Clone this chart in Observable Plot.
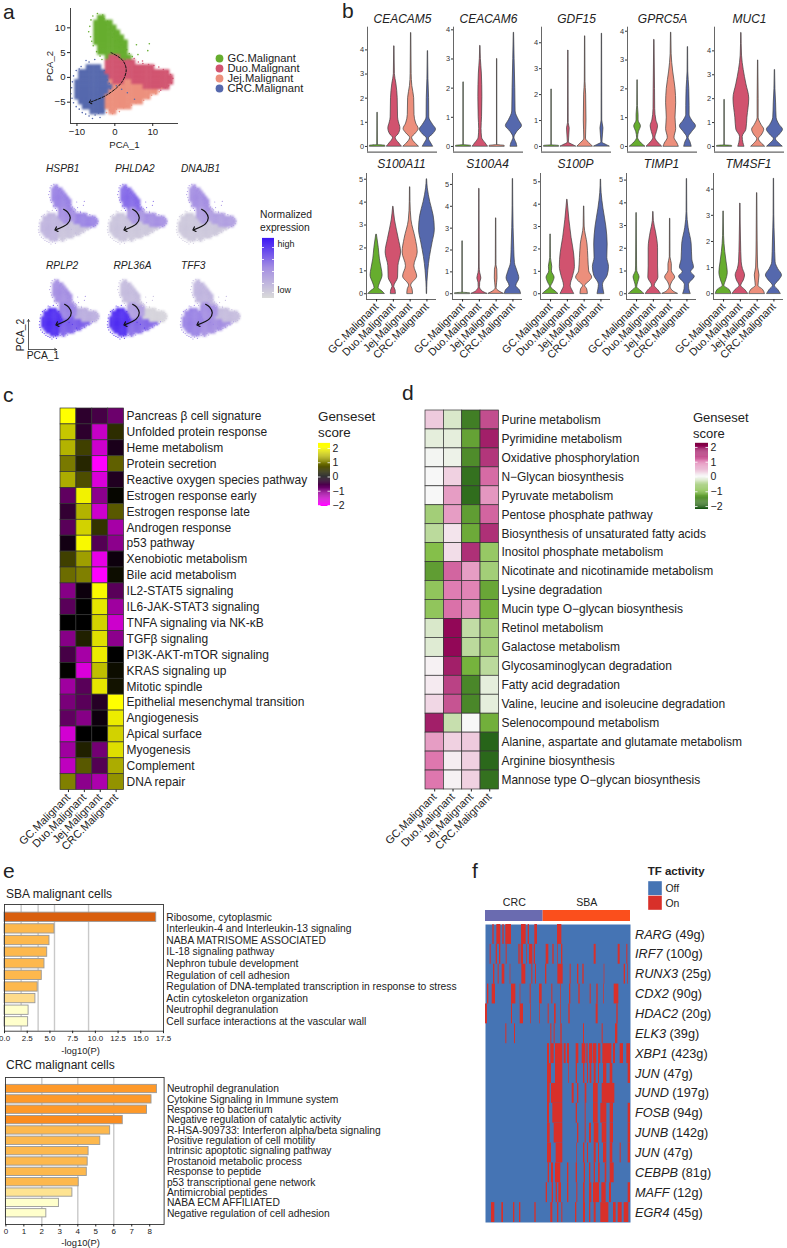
<!DOCTYPE html>
<html><head><meta charset="utf-8">
<script src="https://cdn.jsdelivr.net/npm/d3@7"></script>
<script src="https://cdn.jsdelivr.net/npm/@observablehq/plot@0.6"></script>
<style>
html,body{margin:0;padding:0;background:#fff}
#root{position:relative;width:787px;height:1248px;overflow:hidden;font-family:"Liberation Sans",Arial,sans-serif;color:#222}
.n{position:absolute;line-height:0;white-space:nowrap}
svg{overflow:visible}
</style></head><body><div id="root"></div>
<script>
const clusters = ["GC.Malignant","Duo.Malignant","Jej.Malignant","CRC.Malignant"];
const clusterColors = ["#66ad2e","#d1536f","#ec8f7c","#5568ad"];

// Panel a: dominant cluster per 1x1 PCA unit. Rows y=13..-8, columns x=-11..15
const pcaRows = [
"...........................",
".......GG..................",
"......GGGGG................",
"......GGGGGG...............",
"......GGGGGGG..............",
"......GGGGGGGG.............",
"......GGGGGGGGG............",
".......GGGGGGGG............",
".......GGGGGGGG............",
".........GDDDGGG...........",
".........DDDDDDDD..........",
"....CCCC.DDDDDDDDRRRRR.....",
"..CCCCCCCDDDDDDDDRRRRRRRRR.",
"..CCCCCCCCDDDDDDDRRRRRRRRRR",
".CCCCCCCCCJDDDJJRRRRRRRRRRR",
".CCCCCCCCCCJJJJJJJJRRRRRRR.",
".CCCCCCCCCJJJJJJJJJJJJJ....",
".CCCCCCCCJJJJJJJJJJJJ......",
"..CCCCCCCJJJJJJJJJJ........",
"...CCCCCCJJJJJJJ...........",
".....CCCC.JJ...............",
"..........................."
];
const regionCluster = {G:0,D:1,R:1,J:2,C:3};
// loose cells around the clouds: [x, y]
const looseG = [[-5.8,12.4],[-4.6,12.9],[-3.2,12.6],[-2.9,11.8],[-6.3,11.6],[-1.9,11.3],[-2.3,10.6],[-6.6,10.3],[-1.1,10.1],[-.7,9.4],[-1.4,9.7],[-6.9,9.2],[-.2,8.8],[-.6,8.1],[.4,8.3],[-6.4,8.2],[.9,7.6],[1.3,7.1],[.1,7.4],[-6.1,7.3],[1.8,6.5],[2.4,6.2],[1.1,6.1],[-5.7,6.4],[3.1,5.6],[2.2,5.2],[3.8,4.8],[4.6,4.2],[5.7,6.6],[9.1,6.8],[8.7,5.4],[6.1,4.6],[3.2,4.1],[2.7,3.6],[-4.8,5.2],[-3.9,4.3],[-3.4,3.6]];
const looseC = [[-8.9,2.2],[-7.6,3.4],[-6.8,3.1],[-5.3,3.6],[-10.2,1.4],[-9.4,1.7],[-10.9,.3],[-11.2,-.9],[-11.4,-2.1],[-11.6,-3.3],[-11.3,-4.2],[-10.9,-5.1],[-10.2,-5.9],[-9.4,-6.4],[-8.6,-7.1],[-7.7,-7.4],[-6.8,-7.8],[-5.9,-8.3],[-5.2,-7.6],[-4.3,-7.2],[-3.9,-8.1],[-3.2,-6.8],[-2,-.5],[-1.5,-1.2],[-2.8,1.4],[-1.2,-2.3],[.4,-1.7],[1.8,-2.4],[3.3,-3.1],[5.2,-4.4]];
const looseJ = [[-2.2,-7.1],[-1.4,-6.6],[-.6,-7.3],[.4,-6.4],[1.2,-6.9],[2.3,-6.1],[3.1,-5.8],[4.4,-5.6],[5.6,-5.1],[6.7,-4.9],[7.6,-4.6],[8.8,-4.1],[9.7,-3.6],[10.8,-3.3],[11.7,-2.9],[12.4,-2.2]];
const looseR = [[6.2,3.1],[7.4,2.8],[8.9,2.6],[10.3,2.4],[11.6,2.1],[12.8,1.6],[13.9,1.1],[14.7,.6],[15.3,-.2],[14.9,-1.1],[14.2,-1.7],[13.3,-2.1],[12.1,-2.6],[7.3,3.3],[5.1,3.8],[4.3,3.2]];
const pseudoX = [-1,2,3,1.8,-2,-6.5];
const pseudoY = [5,3.5,1.5,-1,-3.5,-5];
const featGenes = ["HSPB1","PHLDA2","DNAJB1","RPLP2","RPL36A","TFF3"];
const featG = [.55,.65,.5,.5,.2,.25];
const featD = [.5,.45,.4,.55,.4,.5];
const featR = [.55,.5,.4,.3,.05,.2];
const featJ = [.15,.12,.12,.7,.65,.5];
const featC = [.25,.15,.12,.9,.9,.55];
const featArrowX = [-.2,1.6,2.8,1.5,-3.6];
const featArrowY = [4,3,1,-1.2,-3.2];

// Panel b: violin profiles as [value, half-width]
const flat = m => [[0,.45],[.02,.45],[.05,.01],[m,.01]];
const violinGenes = ["CEACAM5","CEACAM6","GDF15","GPRC5A","MUC1","S100A11","S100A4","S100P","TIMP1","TM4SF1"];
const violinYMax = [4.94,4.09,4.6,4.14,4.99,5.25,5.5,5.37,5.29,4.6];
const vCEACAM5 = [[[0,.46],[.03,.46],[.06,.02],[1.4,.01]],
 [[0,.44],[.12,.3],[.35,.08],[.5,.25],[.75,.36],[1,.27],[1.2,.22],[2,.2],[2.6,.12],[3,.03],[4.15,.01]],
 [[0,.45],[.1,.3],[.35,.06],[.55,.3],[.72,.45],[.95,.3],[1.3,.2],[2,.18],[2.5,.07],[3,.03],[4.7,.01]],
 [[0,.3],[.1,.22],[.33,.06],[.5,.3],[.7,.48],[.9,.3],[1.2,.08],[2,.07],[2.8,.03],[3.95,.01]]];
const vCEACAM6 = [flat(2.2),
 [[0,.45],[.1,.32],[.3,.1],[.6,.07],[1,.1],[1.7,.12],[2.5,.09],[3,.03],[3.45,.01]],
 flat(3),
 [[0,.2],[.1,.16],[.3,.03],[.5,.2],[.7,.48],[.9,.3],[1.2,.1],[2,.08],[3,.04],[3.9,.01]]];
const vGDF15 = [flat(2.2),
 [[0,.45],[.05,.3],[.15,.03],[.7,.08],[.9,.02],[3.7,.01]],
 [[0,.45],[.1,.3],[.3,.05],[1,.08],[2,.06],[2.5,.02],[4.25,.01]],
 [[0,.45],[.05,.3],[.15,.03],[.7,.09],[1,.02],[4.35,.01]]];
const vGPRC5A = [[[0,.45],[.1,.25],[.3,.03],[.5,.08],[.7,.2],[.9,.06],[1.1,.06],[1.4,.02],[2.3,.01]],
 [[0,.45],[.1,.28],[.3,.06],[.5,.15],[.7,.22],[.9,.12],[1.3,.05],[2,.04],[3.7,.01]],
 [[0,.45],[.1,.38],[.3,.2],[.6,.3],[1,.26],[1.5,.3],[2,.26],[2.6,.12],[3.2,.03],[3.95,.01]],
 [[0,.22],[.15,.15],[.3,.04],[.5,.25],[.7,.48],[.9,.25],[1.1,.1],[1.4,.1],[2,.08],[2.6,.02],[3.45,.01]]];
const vMUC1 = [flat(1.95),
 [[0,.18],[.15,.12],[.4,.08],[.7,.3],[1.2,.36],[2,.47],[2.6,.3],[3.2,.14],[3.8,.04],[4.75,.01]],
 [[0,.4],[.1,.25],[.3,.05],[.5,.25],[.7,.36],[.9,.2],[1.2,.03],[2,.03],[3.6,.01]],
 [[0,.45],[.1,.3],[.3,.06],[.5,.3],[.7,.48],[.9,.28],[1.2,.1],[1.8,.07],[2.4,.03],[3.2,.01]]];
const vS100A11 = [[[0,.48],[.1,.35],[.25,.12],[.45,.2],[.8,.36],[1.1,.3],[1.5,.2],[2,.13],[2.58,.02]],
 [[0,.15],[.15,.13],[.3,.05],[.7,.28],[1.2,.3],[1.8,.46],[2.4,.32],[3.2,.1],[3.8,.01]],
 [[0,.17],[.2,.14],[.35,.06],[.75,.42],[1.2,.25],[1.8,.45],[2.4,.33],[3.2,.08],[4,.02],[4.65,.01]],
 [[0,.01],[.5,.03],[1,.08],[1.6,.18],[2.2,.33],[2.8,.47],[3.4,.4],[4,.2],[4.6,.05],[5,.01]]];
const vS100A4 = [flat(2.4),
 [[0,.46],[.1,.2],[.3,.04],[.5,.05],[.7,.12],[.95,.05],[1.2,.02],[4.8,.01]],
 [[0,.45],[.1,.2],[.25,.03],[.7,.08],[1.1,.07],[1.3,.02],[3.45,.01]],
 [[0,.48],[.15,.42],[.35,.2],[.7,.38],[1,.28],[1.4,.12],[2,.08],[3,.04],[4,.02],[5.25,.01]]];
const vS100P = [[[0,.45],[.1,.3],[.3,.03],[.5,.15],[.72,.24],[1,.08],[1.2,.1],[1.6,.02],[2.65,.01]],
 [[0,.4],[.15,.3],[.35,.2],[.8,.35],[1.2,.45],[1.8,.4],[2.5,.25],[3.3,.12],[4.2,.01]],
 [[0,.22],[.2,.18],[.35,.06],[.5,.25],[.72,.48],[1,.3],[1.6,.25],[2.2,.2],[3,.03],[3.9,.01]],
 [[0,.2],[.2,.15],[.4,.12],[.8,.4],[1.2,.48],[1.6,.38],[2.2,.4],[3,.32],[3.8,.15],[4.5,.04],[5.1,.01]]];
const vTIMP1 = [[[0,.45],[.1,.3],[.3,.04],[.5,.1],[.72,.18],[1,.04],[1.2,.03],[3.55,.01]],
 [[0,.45],[.15,.3],[.35,.08],[.7,.3],[1.2,.28],[2,.28],[2.7,.16],[3.2,.03],[3.6,.01]],
 [[0,.45],[.1,.2],[.3,.03],[.5,.12],[.72,.3],[1,.1],[1.3,.1],[1.6,.02],[3.3,.01]],
 [[0,.22],[.2,.14],[.4,.12],[.75,.47],[.95,.25],[1.15,.42],[1.5,.32],[2.2,.28],[2.9,.1],[3.6,.02],[5.05,.01]]];
const vTM4SF1 = [[[0,.46],[.15,.35],[.3,.05],[.5,.15],[.8,.25],[1.2,.18],[1.6,.1],[2.2,.03],[3.15,.01]],
 [[0,.46],[.15,.28],[.3,.05],[.5,.2],[.7,.28],[.95,.15],[1.2,.08],[2,.04],[3.45,.01]],
 [[0,.46],[.15,.35],[.3,.08],[.7,.14],[1,.06],[2,.03],[3.85,.01]],
 [[0,.4],[.15,.25],[.3,.06],[.5,.3],[.7,.48],[.95,.25],[1.2,.1],[2,.06],[3,.02],[4.4,.01]]];
const violinProfiles = [vCEACAM5,vCEACAM6,vGDF15,vGPRC5A,vMUC1,vS100A11,vS100A4,vS100P,vTIMP1,vTM4SF1];

// Panel c
const hallmarkTerms = ["Pancreas β cell signature","Unfolded protein response","Heme metabolism","Protein secretion","Reactive oxygen species pathway","Estrogen response early","Estrogen response late","Androgen response","p53 pathway","Xenobiotic metabolism","Bile acid metabolism","IL2-STAT5 signaling","IL6-JAK-STAT3 signaling","TNFA signaling via NK-κB","TGFβ signaling","PI3K-AKT-mTOR signaling","KRAS signaling up","Mitotic spindle","Epithelial mesenchymal transition","Angiogenesis","Apical surface","Myogenesis","Complement","DNA repair"];
const hallmarkGC  = [2,1.55,1.4,.95,1.35,-.75,-.4,-.7,-.15,.5,.85,-1.05,-.7,0,-1.05,-.55,.02,-1.25,-.95,-.75,-1.65,-1.25,-1.5,1];
const hallmarkDuo = [-.35,-.35,.5,.3,.6,1.9,1.4,1.65,1.95,1.25,1,-.1,0,0,.25,-1.3,-1.7,-.7,-.7,-1.05,0,.25,.7,-1.1];
const hallmarkJej = [-.55,-1.55,-1.6,-2,-1.7,-1.1,-1.6,.4,-.65,-1.8,-2,1.95,1.8,1.65,1.75,1.85,1.5,1.8,-.3,-.1,0,-.9,-.65,-1.35];
const hallmarkCRC = [-.85,.35,-.2,.75,-.25,.05,.7,-1.3,-1.1,-.1,.1,-.7,-1.25,-1.6,-1.1,0,.1,.15,2,1.85,1.65,1.75,1.35,1.15];

// Panel d
const keggTerms = ["Purine metabolism","Pyrimidine metabolism","Oxidative phosphorylation","N−Glycan biosynthesis","Pyruvate metabolism","Pentose phosphate pathway","Biosynthesis of unsaturated fatty acids","Inositol phosphate metabolism","Nicotinate and nicotinamide metabolism","Lysine degradation","Mucin type O−glycan biosynthesis","Retinol metabolism","Galactose metabolism","Glycosaminoglycan degradation","Fatty acid degradation","Valine, leucine and isoleucine degradation","Selenocompound metabolism","Alanine, aspartate and glutamate metabolism","Arginine biosynthesis","Mannose type O−glycan biosynthesis"];
const keggGC  = [.35,-.15,-.03,0,0,-.7,-.5,-.95,-1.35,-.85,-.85,-.25,-.2,.05,.1,.25,1.75,.7,1,1];
const keggDuo = [-.25,-.15,-.08,.3,.7,.7,.15,.2,1.15,.95,1.05,1.95,1.95,1.75,1.45,1.3,-.4,.3,.08,.05];
const keggJej = [-1.7,-1.3,-1.55,-1.85,-1.9,-1.35,-1.2,1.6,.7,.9,.8,-.45,-.5,-1.1,-1.6,-1.6,0,.35,.3,.3];
const keggCRC = [1.35,1.75,1.55,1.1,.75,1.15,1.6,-.8,-.7,-1.25,-1.1,-.7,-.7,-.5,-.15,-.15,-1.15,-2,-1.95,-1.85];

// Panel e
const sbaTerms = ["Ribosome, cytoplasmic","Interleukin-4 and Interleukin-13 signaling","NABA MATRISOME ASSOCIATED","IL-18 signaling pathway","Nephron tubule development","Regulation of cell adhesion","Regulation of DNA-templated transcription in response to stress","Actin cytoskeleton organization","Neutrophil degranulation","Cell surface interactions at the vascular wall"];
const sbaValues = [16.7,5.5,4.95,4.7,4.4,4.1,3.65,3.4,2.65,2.6];
const sbaColors = ["#d95f0e","#fdb84d","#fdb84d","#fdb84d","#fdb84d","#fdb84d","#fdb84d","#fedb8b","#ffffcc","#ffffcc"];
const sbaGrid = [1.83,3.7,5.5,9.25];
const crcTerms = ["Neutrophil degranulation","Cytokine Signaling in Immune system","Response to bacterium","Negative regulation of catalytic activity","R-HSA-909733: Interferon alpha/beta signaling","Positive regulation of cell motility","Intrinsic apoptotic signaling pathway","Prostanoid metabolic process","Response to peptide","p53 transcriptional gene network","Antimicrobial peptides","NABA ECM AFFILIATED","Negative regulation of cell adhesion"];
const crcValues = [8.4,8.1,7.85,6.5,5.8,5.25,4.6,4.55,4.5,4.05,3.7,2.95,2.25];
const crcColors = ["#fe9929","#fe9929","#fe9929","#fb8c1e","#fdb84d","#fdb84d","#fdb84d","#fdb84d","#fdb84d","#fdb84d","#fee391","#ffffcc","#ffffcc"];
const crcGrid = [2,4,6];

// Panel f: "On" ranges of ranked cells (0..435)
const tfLabels = ["RARG (49g)","IRF7 (100g)","RUNX3 (25g)","CDX2 (90g)","HDAC2 (20g)","ELK3 (39g)","XBP1 (423g)","JUN (47g)","JUND (197g)","FOSB (94g)","JUNB (142g)","JUN (47g)","CEBPB (81g)","MAFF (12g)","EGR4 (45g)"];
const tfOn = [
[[22,26],[34,46],[52,56],[61,78],[108,122],[128,132],[148,156],[216,229]],
[[14,17],[32,36],[42,46],[62,65],[100,104],[107,114],[124,126],[132,142],[146,150],[182,190],[202,206],[216,218],[228,232],[326,332],[398,404],[424,427]],
[[24,28],[38,41],[50,58],[74,76],[109,121],[139,142],[150,153],[180,184],[217,233],[254,257],[276,280],[292,296],[356,358],[416,420],[426,428]],
[[6,10],[20,30],[78,91],[104,106],[134,137],[162,170],[199,202],[226,228],[252,256],[280,284],[314,317],[334,338],[354,356],[386,400]],
[[0,6],[78,81],[104,114],[136,138],[162,164],[188,191],[207,212],[226,228],[250,254],[332,338],[394,398]],
[[61,64],[87,90],[196,199],[206,209],[226,230],[294,297],[350,353],[390,397]],
[[186,192],[196,206],[210,232],[236,242],[246,252],[272,280],[290,301],[304,308],[312,322],[324,334],[339,346],[352,379],[384,390],[404,414],[424,435]],
[[186,198],[210,232],[250,252],[272,276],[294,298],[306,309],[314,319],[326,332],[339,342],[354,364],[374,382],[428,435]],
[[186,194],[198,232],[260,266],[276,280],[299,304],[324,338],[350,388]],
[[186,192],[202,232],[272,276],[299,302],[324,338],[346,364],[374,384],[428,435]],
[[186,194],[206,232],[276,280],[299,302],[312,318],[326,340],[350,364],[374,384],[428,435]],
[[186,198],[212,232],[274,276],[294,298],[306,309],[326,332],[339,342],[354,364],[374,382],[404,407],[428,435]],
[[188,192],[198,204],[210,226],[246,250],[272,276],[296,300],[312,316],[326,330],[339,344],[359,364],[374,386]],
[[182,186],[200,204],[212,216],[220,228],[246,250],[274,277],[294,299],[312,319],[324,342],[349,362],[372,378],[428,435]],
[[18,28],[49,54],[84,88],[102,106],[148,152],[196,202],[216,220],[229,232],[270,274],[294,300],[312,316],[326,332],[346,370],[384,392],[398,410],[416,430]]
];
const tfGroups = [{label:"CRC",start:0,end:173,color:"#6a6bb0"},{label:"SBA",start:173,end:435,color:"#fb4f1c"}];
const tfBlue = "#4574b4", tfRed = "#d8302a";

const FONT = '"Liberation Sans",Arial,sans-serif';
const root = document.getElementById("root");
const base = {style:{background:"transparent",fontFamily:FONT,overflow:"visible",color:"#222"}};
function place(svg,left,top){svg.style.position="absolute";svg.style.left=left+"px";svg.style.top=top+"px";root.append(svg);return svg;}
function note(text,x,y,o={}){const d=document.createElement("div");d.className="n";d.textContent=text;d.style.left=x+"px";d.style.top=y+"px";d.style.fontSize=(o.size||11)+"px";if(o.italic)d.style.fontStyle="italic";if(o.bold)d.style.fontWeight="bold";if(o.center)d.style.transform="translateX(-50%)";if(o.rotate)d.style.transform="translate(-50%,0) rotate(-90deg)";root.append(d);}

const pcaDense = pcaRows.flatMap((row,r)=>Array.from(row).map((ch,c)=>({ch,x:c-11,y:13-r})).filter(d=>d.ch!=="."));
const toLoose = (list,ch)=>list.map(([x,y])=>({x,y,ch}));
const pcaLoose = [...toLoose(looseG,"G"),...toLoose(looseC,"C"),...toLoose(looseJ,"J"),...toLoose(looseR,"R")];
const clusterColor = {domain:clusters,range:clusterColors};
const cellCluster = d=>clusters[regionCluster[d.ch]];
const pseudo = pseudoX.map((x,i)=>({x,y:pseudoY[i]}));

// Panel a scatter
place(Plot.plot({...base,width:190,height:150,marginLeft:70,marginRight:12,marginTop:8,marginBottom:27,
  x:{domain:[-11.7,16.8]},y:{domain:[-9.3,13.9]},color:clusterColor,
  marks:[
    Plot.rect(pcaDense,{x1:d=>d.x-.55,x2:d=>d.x+.55,y1:d=>d.y-.55,y2:d=>d.y+.55,fill:cellCluster,imageFilter:"blur(1.3px)"}),
    Plot.dot(pcaLoose,{x:"x",y:"y",r:.8,fill:cellCluster,stroke:"none"}),
    Plot.line(pseudo,{x:"x",y:"y",curve:"catmull-rom",stroke:"#111",strokeWidth:1,strokeDasharray:"2.5 1.5",markerEnd:"arrow"}),
    Plot.ruleX([-11.7],{stroke:"#444",strokeWidth:1}),Plot.ruleY([-9.3],{stroke:"#444",strokeWidth:1}),
    Plot.axisX({ticks:[-10,0,10],tickSize:3,fontSize:9.6,tickPadding:1.5,label:"PCA_1",labelAnchor:"center",labelArrow:"none",labelOffset:24,color:"#222"}),
    Plot.axisY({ticks:[-5,0,5,10],tickSize:3,fontSize:9.6,tickPadding:2,label:"PCA_2",labelAnchor:"center",labelArrow:"none",labelOffset:24,color:"#222"})
  ]}),0,0);
// legend a
place(Plot.plot({...base,width:110,height:60,margin:0,x:{domain:[0,1],range:[5,115],axis:null},y:{type:"point",domain:clusters,range:[5,46],axis:null},color:clusterColor,
  marks:[Plot.dot(clusters,{x:()=>0,y:d=>d,fill:d=>d,stroke:"none",r:3.9}),
         Plot.text(clusters,{x:()=>0,y:d=>d,text:d=>d,textAnchor:"start",dx:8,fontSize:11.2,fill:"#222"})]}),214,47);

// Feature plots
const featColor = {type:"linear",domain:[0,.5,1],range:["#d9d9d9","#a48ee2","#3a14f5"]};
const featX = [38,107,176,39,107,180], featY = [182,182,182,277,277,277];
const titleX = [46,115,181,46,113.5,181];
const arrow = featArrowX.map((x,i)=>({x,y:featArrowY[i]}));
featGenes.forEach((g,i)=>{
  const lvl={G:featG[i],D:featD[i],R:featR[i],J:featJ[i],C:featC[i]};
  place(Plot.plot({...base,width:60,height:62,margin:0,x:{domain:[-11.5,15.5],axis:null},y:{domain:[-8.5,13.5],axis:null},color:featColor,
   marks:[
    Plot.rect(pcaDense,{x1:d=>d.x-.55,x2:d=>d.x+.55,y1:d=>d.y-.55,y2:d=>d.y+.55,fill:d=>lvl[d.ch],imageFilter:"blur(0.8px)"}),
    Plot.dot(pcaLoose,{x:"x",y:"y",r:.55,fill:d=>lvl[d.ch],stroke:"none"}),
    Plot.line(arrow,{x:"x",y:"y",curve:"catmull-rom",stroke:"#111",strokeWidth:1.2,markerEnd:"arrow"})
   ]}),featX[i],featY[i]);
  note(g,titleX[i],i<3?168.5:266,{size:10.2,italic:true});
});
function colorbar(left,top,w,h,domain,color,ticks,labels,dash){
  const step=(domain[1]-domain[0])/60;
  const stops=d3.range(domain[0],domain[1],step);
  place(Plot.plot({...base,width:w+(labels?18:0),height:h,margin:0,marginRight:labels?18:0,x:{domain:[0,1],axis:null},y:{domain,axis:null},color,
   marks:[Plot.rectY(stops,{x1:()=>0,x2:()=>1,y1:d=>d,y2:d=>d+step*1.1,fill:d=>d}),
     Plot.tickY(ticks,{y:d=>d,x1:()=>0,x2:()=>1,stroke:"white",strokeWidth:.8,strokeDasharray:dash}),
     ...(labels?[Plot.axisY({anchor:"right",ticks,tickSize:0,tickPadding:2,fontSize:10.5,tickFormat:d=>d<0?"−"+(-d):d,color:"#222",label:null})]:[])
   ]}),left,top);
}
colorbar(262,238,12,60,[0,1],featColor,[.1,.25,.45,.65,.85],false,"2 8 2");
note("Normalized",260,215,{size:10.3});note("expression",260,228,{size:10.3});
note("high",277.5,244,{size:9});note("low",277.5,289.5,{size:9});

// mini axis
place(Plot.plot({...base,width:28,height:30,margin:0,x:{domain:[0,1],axis:null},y:{domain:[0,1],axis:null},
  marks:[Plot.arrow([[0,0,1,0],[0,0,0,1]],{x1:d=>d[0],y1:d=>d[1],x2:d=>d[2],y2:d=>d[3],stroke:"#333",strokeWidth:.8,headLength:4,bend:0})]}),28,319);
note("PCA_2",20.5,335,{size:10.3,rotate:true});note("PCA_1",43,355.5,{size:10.3,center:true});

// Panel b
const panelLeft=[366.7,453.3,540.7,627.3,714];
violinGenes.forEach((g,i)=>{
  const bottom=i>=5, max=violinYMax[i], min=-max*.048;
  const rows=violinProfiles[i].flatMap((p,c)=>p.map(([y,w])=>({c:clusters[c],y,x1:c-w,x2:c+w})));
  const ticks=d3.range(0,Math.floor(max)+1);
  const left=panelLeft[i%5]-(bottom?1:0);
  place(Plot.plot({...base,width:92,height:bottom?211:151.7,marginLeft:20,marginRight:2,marginTop:bottom?23:26.7,marginBottom:bottom?62:0,
    x:{domain:[-.6,3.57],axis:null},y:{domain:[min,max],axis:null},color:clusterColor,
    marks:[
     Plot.areaX(rows,{y:"y",x1:"x1",x2:"x2",z:"c",fill:"c",stroke:"#3c3c3c",strokeWidth:.7,curve:"monotone-y"}),
     Plot.ruleX([-.6],{stroke:"#666",strokeWidth:1}),Plot.ruleY([min],{stroke:"#666",strokeWidth:1.2}),
     Plot.axisY({ticks,tickSize:2,tickPadding:1.5,fontSize:7.4,tickFormat:d=>d,color:"#333",label:null}),
     ...(bottom?[Plot.axisX({ticks:[0,1,2,3],tickFormat:d=>clusters[d],tickRotate:-45,tickSize:2.5,tickPadding:3,fontSize:10.8,color:"#222",label:null})]:[]),
     Plot.text([g],{frameAnchor:"top",dy:bottom?-14:-12.5,text:d=>d,fontSize:12,fontStyle:"italic",fill:"#222"})
    ]}),left-20,bottom?150:0);
});

// Panels c, d
function heat(left,top,cellW,cellH,terms,cols,color,fontSize,mr){
  const rows=terms.flatMap((t,r)=>clusters.map((c,k)=>({t,c,v:cols[k][r]})));
  place(Plot.plot({...base,width:cellW*4+mr+1,height:cellH*terms.length+70,marginLeft:1,marginRight:mr,marginTop:0,marginBottom:70,
    x:{domain:clusters,padding:0,axis:null,round:false},y:{domain:terms,padding:0,axis:null,round:false},color,
    marks:[
     Plot.cell(rows,{x:"c",y:"t",fill:"v",stroke:"#333",strokeWidth:.7}),
     Plot.axisY({anchor:"right",tickSize:0,tickPadding:2.5,fontSize,color:"#222",label:null}),
     Plot.axisX({tickRotate:-45,tickSize:2.5,tickPadding:3,fontSize:11,color:"#222",label:null})
    ]}),left-1,top);
}
const mY={type:"linear",domain:[-2,0,2],range:["#ff00ff","#000000","#ffff00"]};
const pG={type:"linear",domain:[-2,-1,0,1,2],range:["#276419","#7fbc41","#f7f7f7","#de77ae","#8e0152"]};
heat(60,408.3,15.9,15.9,hallmarkTerms,[hallmarkGC,hallmarkDuo,hallmarkJej,hallmarkCRC],mY,12,250);
heat(424.7,410,18.35,18.95,keggTerms,[keggGC,keggDuo,keggJej,keggCRC],pG,12,280);
note("Genseset",318,417,{size:13.4});note("score",318,433,{size:13.4});
colorbar(318,443,12,63,[-2.07,2.35],mY,[-2,-1,0,1,2],true,"2.5 7 2.5");
note("Genseset",693,418,{size:13});note("score",693,434,{size:13});
colorbar(695,444,13,65,[-2.2,2.2],pG,[-2,-1,0,1,2],true,"2.5 8 2.5");

// Panel e
function bars(left,top,w,h,terms,values,colors,domain,ticks,fmt,grid,yr,bandPad,labelSize){
  const rows=terms.map((t,i)=>({t,v:values[i],col:colors[i]}));
  place(Plot.plot({...base,width:w+320,height:h+26,marginLeft:0,marginRight:320,marginTop:0,marginBottom:26,
    x:{domain,axis:null},y:{domain:terms,range:yr,padding:bandPad,axis:null,round:false},
    marks:[
     Plot.ruleX(grid,{stroke:"#c9c9c9",strokeWidth:1.4}),
     Plot.barX(rows,{x:"v",y:"t",fill:"col",stroke:"#999",strokeWidth:.9}),
     Plot.frame({stroke:"#333",strokeWidth:.9}),
     Plot.axisY({anchor:"right",tickSize:0,tickPadding:2.8,fontSize:labelSize,color:"#222",label:null}),
     Plot.axisX({ticks,tickFormat:fmt,tickSize:2.5,tickPadding:1.5,fontSize:8,color:"#222",label:null})
    ]}),left,top);
}
bars(4.3,904,159,126.7,sbaTerms,sbaValues,sbaColors,[0,17.5],d3.range(0,18,2.5),d3.format(".1f"),sbaGrid,[5.8,124.3],.2,10.3);
bars(4.7,1076.7,158.6,147,crcTerms,crcValues,crcColors,[-.02,8.8],d3.range(0,9),d=>d,crcGrid,[5.3,142],.2,10.3);
note("SBA malignant cells",6,893.5,{size:12});note("CRC malignant cells",6,1065,{size:12});
note("-log10(P)",80.6,1050.5,{size:9.4,center:true});note("-log10(P)",80.6,1243,{size:9.4,center:true});

// Panel f
const tfRows=tfOn.flatMap((ranges,row)=>ranges.map(([a,b])=>({row,a,b})));
const tfIdx=d3.range(tfLabels.length);
const fSvg=place(Plot.plot({...base,width:145+120,height:298,marginLeft:0,marginRight:120,marginTop:0,marginBottom:0,
  x:{domain:[0,435],axis:null},y:{domain:tfIdx,padding:0,axis:null,round:false},
  marks:[Plot.frame({fill:tfBlue,stroke:"none"}),
    Plot.barX(tfRows,{x1:"a",x2:"b",y:"row",fill:tfRed,inset:0}),
    Plot.axisY({anchor:"right",tickSize:0,tickPadding:4.5,fontSize:12.7,tickFormat:i=>tfLabels[i],color:"#222",label:null})
  ]}),485.3,924.3);
fSvg.querySelectorAll('[aria-label="y-axis tick label"] text').forEach(t=>{
  const [gene,rest]=t.textContent.split(" (");
  t.textContent="";
  const a=document.createElementNS("http://www.w3.org/2000/svg","tspan");a.setAttribute("font-style","italic");a.textContent=gene;
  const b=document.createElementNS("http://www.w3.org/2000/svg","tspan");b.textContent=" ("+rest;
  t.append(a,b);
});
place(Plot.plot({...base,width:145,height:11,margin:0,x:{domain:[0,435],axis:null},y:{domain:[0,1],axis:null},
  marks:[Plot.rectX(tfGroups,{x1:"start",x2:"end",y1:()=>0,y2:()=>1,fill:"color"}),
   Plot.text(tfGroups,{x:d=>(d.start+d.end)/2,text:"label",frameAnchor:"top",dy:-12,fontSize:10.6,fill:"#222"})]}),485.3,910);
note("TF activity",647.7,871,{size:11.5,bold:true});
place(Plot.plot({...base,width:40,height:29,margin:0,marginRight:26,x:{type:"band",domain:[0],padding:0,axis:null,round:false},y:{type:"band",domain:["Off","On"],padding:0,axis:null,round:false},
  marks:[Plot.cell(["Off","On"],{y:d=>d,x:()=>0,fill:d=>d==="Off"?tfBlue:tfRed,stroke:"white",strokeWidth:.4}),
   Plot.axisY({anchor:"right",tickSize:0,tickPadding:3,fontSize:10.4,color:"#222",label:null})]}),648,881);

// Panel letters
[["a",3,12],["b",342,11],["c",3,395],["d",402,393],["e",3,871],["f",472,871]].forEach(([t,x,y])=>note(t,x,y,{size:21}));
</script></body></html>
